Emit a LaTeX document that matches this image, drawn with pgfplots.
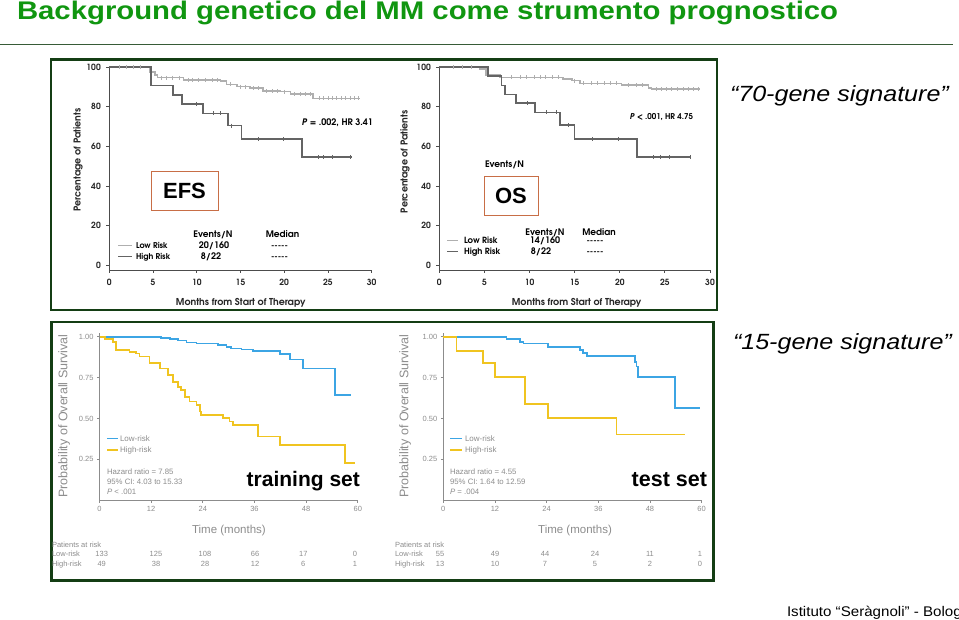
\documentclass[border=0pt]{standalone}
\usepackage{fontspec}
\setmainfont{Liberation Sans}
\newfontfamily\gothic{TeX Gyre Adventor}
\usepackage{pgfplots}
\pgfplotsset{compat=1.18}
\definecolor{titlegreen}{RGB}{16,150,16}
\definecolor{framegreen}{RGB}{20,62,20}
\definecolor{lowgray}{RGB}{175,175,175}
\definecolor{highgray}{RGB}{100,100,100}
\definecolor{kmblue}{RGB}{60,165,228}
\definecolor{kmyellow}{RGB}{240,196,32}
\definecolor{boxorange}{RGB}{200,110,70}
\definecolor{txtgray}{RGB}{140,140,140}
\newcommand\gfont[1]{\gothic\bfseries\fontsize{#1}{#1}\selectfont}
\newcommand\afont[1]{\fontsize{#1}{#1}\selectfont}
\pgfplotsset{
 topkm/.style={scale only axis, height=202.7pt, xmin=0, xmax=30, ymin=-2.5, ymax=100,
  axis x line=bottom, axis y line=left, axis line style={-, draw=black!70, line width=0.9pt},
  xtick={0,5,...,30}, ytick={0,20,...,100}, tick align=outside, major tick length=3pt,
  tick style={black!70, line width=0.8pt},
  ticklabel style={font=\gfont{8.5}, text=black!85},
  xticklabel style={yshift=-3pt},
  yticklabel style={xshift=-2pt},
  label style={font=\gfont{9.5}, text=black!85},
  /pgf/number format/assume math mode=true, clip=false, anchor=south west},
 botkm/.style={scale only axis, width=258.3pt, height=166.9pt, xmin=0, xmax=60, ymin=0, ymax=1.02,
  axis x line=bottom, axis y line=left, axis line style={-, draw=black!45, line width=0.8pt},
  xtick={0,12,...,60}, ytick={0.25,0.5,0.75,1}, tick align=outside, major tick length=2.5pt,
  tick style={black!45, line width=0.7pt},
  yticklabel style={/pgf/number format/.cd, fixed, fixed zerofill, precision=2},
  ticklabel style={font=\afont{7.5}, text=txtgray},
  xlabel style={font=\afont{11.5}, text=txtgray},
  ylabel style={font=\afont{12.5}, text=txtgray},
  /pgf/number format/assume math mode=true, clip=false, anchor=south west},
}
\begin{document}
\begin{tikzpicture}
\useasboundingbox (0,0) rectangle (959pt,-620pt);
\clip (0,0) rectangle (959pt,-620pt);

% ---------------- EFS ----------------
\begin{axis}[topkm, width=262.4pt, at={(109.3pt,-270pt)},
  xlabel={Months from Start of Therapy}, ylabel={Percentage of Patients},
  xlabel style={at={(axis description cs:0.501,-0.176)}, anchor=base},
  ylabel style={at={(axis description cs:-0.119,0.543)}, anchor=center}]
\addplot[const plot, lowgray, line width=1.6pt] coordinates {
 (0,100) (4.6,97.5) (5.2,96) (5.5,94.8) (8.5,93.6) (12.7,93.1) (13.4,91.4) (14.6,90.2)
 (16.1,89.4) (17.6,88.0) (19.5,87.7) (20.7,86.5) (23.3,84.3) (28.7,84.3)};
\addplot[const plot, highgray, line width=1.6pt] coordinates {
 (0,100) (4.75,90.7) (7.3,86) (8.3,81.5) (10.7,76.7) (13.6,70.5) (15.1,63.7) (22.0,54.5) (27.7,54.5)};
\addplot[only marks, mark=|, mark size=2pt, lowgray, mark options={line width=0.6pt}] coordinates {
 (1.2,100) (2.0,100) (2.8,100) (3.5,100)
 (6,94.8) (6.5,94.8) (7.2,94.8) (8.0,94.8)
 (9,93.6) (9.5,93.6) (10.2,93.6) (11,93.6) (11.8,93.6) (12.3,93.6)
 (13.8,91.4) (15,90.2) (15.5,90.2) (16.5,89.4) (17,89.4)
 (18,88) (18.6,88) (19.2,88) (20,87.7)
 (21.2,86.5) (21.8,86.5) (22.4,86.5) (23,86.5)
 (24,84.3) (24.5,84.3) (25,84.3) (25.5,84.3) (26,84.3) (26.5,84.3) (27,84.3) (27.5,84.3) (28,84.3) (28.5,84.3)};
\addplot[only marks, mark=|, mark size=2pt, highgray, mark options={line width=0.6pt}] coordinates {
 (10,81.5) (11.9,76.7) (12.7,76.7) (14,70.5) (17,63.7) (19.9,63.7) (23.9,54.5) (24.5,54.5) (25.5,54.5) (27.5,54.5)};
\end{axis}

% ---------------- OS ----------------
\begin{axis}[topkm, width=270.7pt, at={(439.3pt,-270pt)},
  xlabel={Months from Start of Therapy}, ylabel={Percentage of Patients},
  xlabel style={at={(axis description cs:0.5076,-0.176)}, anchor=base},
  ylabel style={at={(axis description cs:-0.1267,0.534)}, anchor=center}]
\addplot[const plot, lowgray, line width=1.6pt] coordinates {
 (0,100) (4.5,99) (5.2,96.1) (6.7,94.9) (13.7,94.1) (14.7,93.3) (15.6,91.9) (20.2,91.0) (23.2,89.4) (23.5,88.9) (28.9,88.9)};
\addplot[const plot, highgray, line width=1.6pt] coordinates {
 (0,100) (5.4,95.6) (6.9,90.7) (7.3,86.3) (8.5,81.8) (10.6,77.2) (13.4,70.8) (15.0,63.7) (21.9,54.5) (27.8,54.5)};
\addplot[only marks, mark=|, mark size=2pt, lowgray, mark options={line width=0.6pt}] coordinates {
 (1.5,100) (2.5,100) (3.5,100)
 (8,94.9) (9,94.9) (9.6,94.9) (10.5,94.9) (11.2,94.9) (11.8,94.9) (12.5,94.9) (13.2,94.9)
 (15,93.3) (16,91.9) (16.8,91.9) (17.5,91.9) (18.3,91.9) (19,91.9) (19.6,91.9)
 (21,91) (21.8,91) (22.5,91)
 (24,88.9) (24.6,88.9) (25.2,88.9) (25.7,88.9) (26.4,88.9) (27,88.9) (27.6,88.9) (28.2,88.9) (28.7,88.9)};
\addplot[only marks, mark=|, mark size=2pt, highgray, mark options={line width=0.6pt}] coordinates {
 (9.7,81.8) (11.9,77.2) (13,77.2) (14.3,70.8) (17,63.7) (19.8,63.7) (23.7,54.5) (24.5,54.5) (25.5,54.5) (27.8,54.5)};
\end{axis}

% ---------------- training set ----------------
\begin{axis}[botkm, at={(99.5pt,-500.3pt)},
  xlabel={Time (months)}, ylabel={Probability of Overall Survival},
  xlabel style={at={(axis description cs:0.501,-0.184)}, anchor=center},
  ylabel style={at={(axis description cs:-0.137,0.505)}, anchor=center}]
\addplot[const plot, kmblue, line width=1.7pt] coordinates {
 (0,1.0) (7,0.997) (14.3,0.99) (16.3,0.984) (18.2,0.976) (20.2,0.965) (22.5,0.959) (27.5,0.949)
 (29.5,0.939) (30.6,0.928) (33,0.922) (35.7,0.912) (41.9,0.892) (44.2,0.861) (47.3,0.806) (54.7,0.644) (58.5,0.644)};
\addplot[const plot, kmyellow, line width=1.7pt] coordinates {
 (0,1.0) (1.2,0.984) (3.1,0.969) (3.9,0.918) (7,0.908) (8.5,0.898) (9.3,0.878) (11.6,0.837) (14,0.806)
 (15.9,0.766) (17.1,0.725) (18.2,0.694) (19,0.674) (19.8,0.633) (20.9,0.603) (22.5,0.582) (23.3,0.542)
 (23.6,0.521) (28.7,0.501) (30.2,0.481) (31,0.46) (36.8,0.389) (41.9,0.338) (57,0.23) (59.3,0.23)};
\end{axis}

% ---------------- test set ----------------
\begin{axis}[botkm, at={(443.3pt,-500.3pt)},
  xlabel={Time (months)}, ylabel={Probability of Overall Survival},
  xlabel style={at={(axis description cs:0.51,-0.184)}, anchor=center},
  ylabel style={at={(axis description cs:-0.148,0.505)}, anchor=center}]
\addplot[const plot, kmblue, line width=1.7pt] coordinates {
 (0,1.0) (14.7,0.984) (17.8,0.969) (18.6,0.959) (24.4,0.935) (31.7,0.918) (32.5,0.902) (33.3,0.884)
 (44.5,0.847) (44.9,0.817) (45.3,0.752) (53.8,0.562) (59.6,0.562)};
\addplot[const plot, kmyellow, line width=1.7pt] coordinates {
 (0,1.0) (3.1,0.914) (9.3,0.837) (12,0.752) (19,0.589) (24.4,0.501) (40.2,0.403) (56.1,0.403)};
\end{axis}

\begin{scope}[x=1pt, y=-1pt, every node/.style={inner sep=0pt, outer sep=0pt}]
% title and rule
\node[anchor=base west, text=titlegreen] at (17,20)
  {\scalebox{1.15}[1]{\bfseries\afont{25.5}Background genetico del MM come strumento prognostico}};
\draw[framegreen!85, line width=1pt] (0,45) -- (953,45);
% frames
\draw[framegreen, line width=2.3pt] (51,59.5) rectangle (717,310);
\draw[framegreen, line width=2.3pt] (51.5,322) rectangle (713.5,580.5);

% EFS annotations
\node[anchor=base east, font=\gfont{9}] at (373,125.7) {\textit{P} = .002, HR 3.41};
\node[anchor=base, font=\gfont{9}] at (213,237.7) {Events/N};
\node[anchor=base, font=\gfont{9}] at (282.5,237.7) {Median};
\draw[lowgray, line width=1.6pt] (118,245.5) -- (132,245.5);
\draw[highgray, line width=1.6pt] (118,256.5) -- (132,256.5);
\node[anchor=base west, font=\gfont{8}] at (136,249) {Low Risk};
\node[anchor=base west, font=\gfont{8}] at (136,260) {High Risk};
\node[anchor=base, font=\gfont{9}] at (214,249) {20/160};
\node[anchor=base, font=\gfont{9}] at (211,260) {8/22};
\node[anchor=base, font=\gfont{8}] at (279.5,249) {-{}-{}-{}-{}-};
\node[anchor=base, font=\gfont{8}] at (279.5,260) {-{}-{}-{}-{}-};
\draw[boxorange, line width=0.9pt] (151,171) rectangle (218,210);
\node[font=\bfseries\afont{22}] at (184.5,190.5) {EFS};

% OS annotations
\node[anchor=base east, font=\gfont{8}] at (693,119.3) {\textit{P} < .001, HR 4.75};
\node[anchor=base west, font=\gfont{9}] at (485,167.7) {Events/N};
\node[anchor=base, font=\gfont{9}] at (545,235.3) {Events/N};
\node[anchor=base, font=\gfont{9}] at (599,235.3) {Median};
\draw[lowgray, line width=1.6pt] (447,240.7) -- (458,240.7);
\draw[highgray, line width=1.6pt] (447,251.7) -- (458,251.7);
\node[anchor=base west, font=\gfont{8.5}] at (464,243.3) {Low Risk};
\node[anchor=base west, font=\gfont{8.5}] at (464,255) {High Risk};
\node[anchor=base, font=\gfont{9}] at (545,243.3) {14/160};
\node[anchor=base, font=\gfont{9}] at (541,255) {8/22};
\node[anchor=base, font=\gfont{8}] at (595,243.3) {-{}-{}-{}-{}-};
\node[anchor=base, font=\gfont{8}] at (595,255) {-{}-{}-{}-{}-};
\draw[boxorange, line width=0.9pt] (484,176) rectangle (538,215);
\node[font=\bfseries\afont{22}] at (511,195.5) {OS};

% training set annotations
\draw[kmblue, line width=1.6pt] (107,438.3) -- (118,438.3);
\draw[kmyellow, line width=1.6pt] (107,450) -- (118,450);
\node[anchor=west, font=\afont{8}, text=txtgray] at (120,438.3) {Low-risk};
\node[anchor=west, font=\afont{8}, text=txtgray] at (120,450) {High-risk};
\node[anchor=base west, font=\afont{7.8}, text=txtgray] at (107,474.2) {Hazard ratio = 7.85};
\node[anchor=base west, font=\afont{7.8}, text=txtgray] at (107,484.2) {95\% CI: 4.03 to 15.33};
\node[anchor=base west, font=\afont{7.8}, text=txtgray] at (107,494.8) {\textit{P} < .001};
\node[anchor=base west, font=\bfseries\afont{21}] at (246.7,486.7) {training set};
\node[anchor=west, font=\afont{7.5}, text=txtgray] at (52,545) {Patients at risk};
\node[anchor=west, font=\afont{7.5}, text=txtgray] at (52,554.3) {Low-risk};
\node[anchor=west, font=\afont{7.5}, text=txtgray] at (52,564.3) {High-risk};
\foreach \xx/\a/\b in {101.7/133/49, 156/125/38, 205/108/28, 255/66/12, 303.3/17/6, 355/0/1}{
  \node[font=\afont{7.5}, text=txtgray] at (\xx,554.3) {\a};
  \node[font=\afont{7.5}, text=txtgray] at (\xx,564.3) {\b};
}

% test set annotations
\draw[kmblue, line width=1.6pt] (450,438.3) -- (462,438.3);
\draw[kmyellow, line width=1.6pt] (450,450) -- (462,450);
\node[anchor=west, font=\afont{8}, text=txtgray] at (465,438.3) {Low-risk};
\node[anchor=west, font=\afont{8}, text=txtgray] at (465,450) {High-risk};
\node[anchor=base west, font=\afont{7.8}, text=txtgray] at (450,474.2) {Hazard ratio = 4.55};
\node[anchor=base west, font=\afont{7.8}, text=txtgray] at (450,484.2) {95\% CI: 1.64 to 12.59};
\node[anchor=base west, font=\afont{7.8}, text=txtgray] at (450,494.8) {\textit{P} = .004};
\node[anchor=base west, font=\bfseries\afont{21.5}] at (631.7,486.7) {test set};
\node[anchor=west, font=\afont{7.5}, text=txtgray] at (395,545) {Patients at risk};
\node[anchor=west, font=\afont{7.5}, text=txtgray] at (395,554.3) {Low-risk};
\node[anchor=west, font=\afont{7.5}, text=txtgray] at (395,564.3) {High-risk};
\foreach \xx/\a/\b in {440/55/13, 495/49/10, 545/44/7, 595/24/5, 650/11/2, 700/1/0}{
  \node[font=\afont{7.5}, text=txtgray] at (\xx,554.3) {\a};
  \node[font=\afont{7.5}, text=txtgray] at (\xx,564.3) {\b};
}

% right-hand captions and footer
\node[anchor=base west] at (730,101.7) {\scalebox{1.14}[1]{\itshape\afont{22}“70-gene signature”}};
\node[anchor=base west] at (733,350) {\scalebox{1.14}[1]{\itshape\afont{22}“15-gene signature”}};
\node[anchor=base west] at (787,616) {\scalebox{1.08}[1]{\afont{14}Istituto “Seràgnoli” - Bologna}};
\end{scope}
\end{tikzpicture}
\end{document}
